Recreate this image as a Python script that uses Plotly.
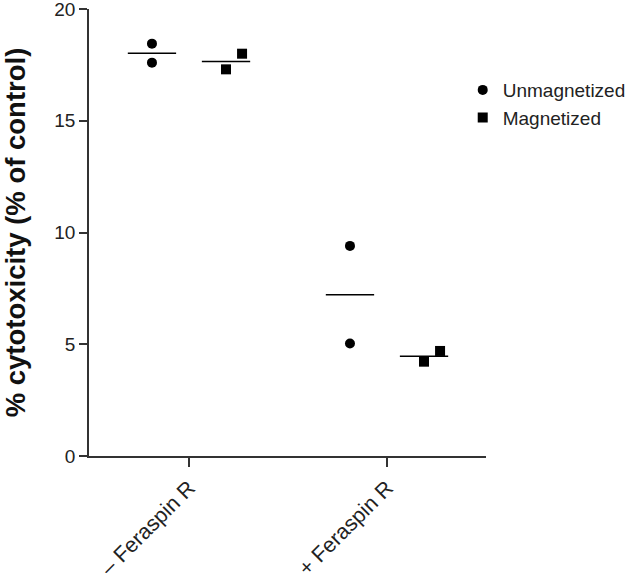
import plotly.graph_objects as go

# ---- data ----
categories = ["– Feraspin R", "+ Feraspin R"]
unmagnetized = [[18.45, 17.6], [9.4, 5.03]]
magnetized = [[17.3, 18.0], [4.22, 4.70]]
series_names = ["Unmagnetized", "Magnetized"]
y_ticks = [0, 5, 10, 15, 20]

# ---- style / layout constants ----
GROUP_OFFSET = 0.187
JITTER = {"Unmagnetized": [0.0, 0.0], "Magnetized": [0.0, 0.081]}
MEAN_HALF = 0.122
FONT = "Liberation Sans, Arial, sans-serif"
AXIS_COLOR = "#333333"

fig = go.Figure()
series = {"Unmagnetized": (unmagnetized, -GROUP_OFFSET, "circle"),
          "Magnetized": (magnetized, GROUP_OFFSET, "square")}

for name in series_names:
    vals, off, sym = series[name]
    xs, ys = [], []
    for ci, group in enumerate(vals):
        for j, v in enumerate(group):
            xs.append(ci + off + JITTER[name][j])
            ys.append(v)
    fig.add_trace(go.Scatter(x=xs, y=ys, mode="markers", name=name,
                             marker=dict(symbol=sym, size=10, color="black"),
                             cliponaxis=False))
    # mean lines
    for ci, group in enumerate(vals):
        m = sum(group) / len(group)
        fig.add_trace(go.Scatter(x=[ci + off - MEAN_HALF, ci + off + MEAN_HALF], y=[m, m],
                                 mode="lines", line=dict(color="black", width=1.5),
                                 showlegend=False, hoverinfo="skip"))

fig.update_layout(
    width=627, height=573,
    margin=dict(l=89, r=141, t=9, b=117, autoexpand=False),
    plot_bgcolor="white", paper_bgcolor="white",
    font=dict(family=FONT, size=19, color="#222222"),
    showlegend=True,
    legend=dict(xref="container", yref="container", x=0.738, xanchor="left",
                y=0.876, yanchor="top",
                font=dict(size=19, color="#222222"), bgcolor="rgba(0,0,0,0)"),
    xaxis=dict(range=[-0.505, 1.5], tickmode="array", tickvals=list(range(len(categories))),
               ticktext=categories, tickangle=-45, showgrid=False, zeroline=False,
               showline=True, linecolor=AXIS_COLOR, linewidth=1.5, automargin=False,
               ticks="outside", ticklen=9, tickwidth=1.5, tickcolor=AXIS_COLOR,
               ticklabeloverflow="allow", tickfont=dict(size=21.5)),
    yaxis=dict(range=[0, 20], tickmode="array", tickvals=y_ticks, showgrid=False,
               zeroline=False, showline=True, linecolor=AXIS_COLOR, linewidth=1.5,
               ticks="outside", ticklen=8, tickwidth=1.5, tickcolor=AXIS_COLOR,
               automargin=False, ticklabeloverflow="allow",
               tickfont=dict(size=19),
               title=dict(text="% cytotoxicity (% of control)",
                          font=dict(size=27.5, weight="bold", color="#111111"), standoff=44)),
)

fig.write_html("out.html", config={"displayModeBar": False},
               post_script="document.body.style.margin='0';")
